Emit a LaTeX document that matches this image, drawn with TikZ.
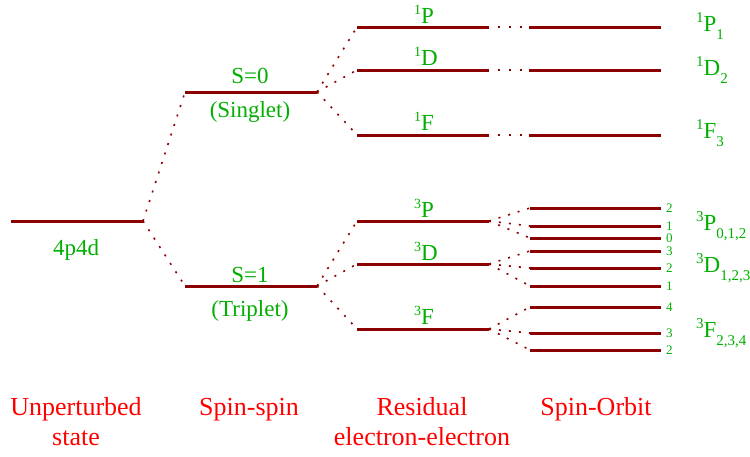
\documentclass[tikz,border=0pt]{standalone}
\usepackage{fontspec}
\setmainfont{Liberation Serif}
\definecolor{lvl}{RGB}{139,0,0}
\definecolor{grn}{RGB}{0,175,0}
\definecolor{rd}{RGB}{255,0,0}
\newcommand{\termlab}[3]{\raisebox{9pt}{\fontsize{15}{15}\selectfont #1}#2\raisebox{-8pt}{\fontsize{15}{15}\selectfont #3}}
\newcommand{\lvllab}[2]{\raisebox{9pt}{\fontsize{14}{14}\selectfont #1}#2}
\begin{document}
\begin{tikzpicture}[x=1pt,y=-1pt,
  level/.style={draw=lvl,line width=3pt},
  fan/.style={draw=lvl,line width=1.6pt,dash pattern=on 2pt off 8pt},
  hdots/.style={draw=lvl,line width=2.2pt,dash pattern=on 2pt off 9pt,shorten <=9pt,shorten >=7pt},
  glab/.style={text=grn,font=\fontsize{23}{26}\selectfont,inner sep=0pt,anchor=base},
  glabw/.style={glab,anchor=base west},
  jlab/.style={text=grn,font=\fontsize{13}{13}\selectfont,inner sep=0pt,anchor=west,xshift=5pt},
  rlab/.style={text=rd,font=\fontsize{26}{30}\selectfont,inner sep=0pt,anchor=base}]
\useasboundingbox (0,0) rectangle (750,456);
% level end points
\coordinate (u-l) at (11,221);  \coordinate (u-r) at (143,221);
\coordinate (s0-l) at (185,92); \coordinate (s0-r) at (317,92);
\coordinate (s1-l) at (185,286);\coordinate (s1-r) at (317,286);
\coordinate (p1-l) at (357,27); \coordinate (p1-r) at (489,27);
\coordinate (d1-l) at (357,70); \coordinate (d1-r) at (489,70);
\coordinate (f1-l) at (357,135);\coordinate (f1-r) at (489,135);
\coordinate (p1j-l) at (529,27); \coordinate (p1j-r) at (661,27);
\coordinate (d1j-l) at (529,70); \coordinate (d1j-r) at (661,70);
\coordinate (f1j-l) at (529,135);\coordinate (f1j-r) at (661,135);
\coordinate (p3-l) at (357,221);\coordinate (p3-r) at (489,221);
\coordinate (d3-l) at (357,264);\coordinate (d3-r) at (489,264);
\coordinate (f3-l) at (357,329);\coordinate (f3-r) at (489,329);
\foreach \n/\y in {p2/208,p1/226,p0/238,d3/251,d2/268,d1/286,f4/307,f3/333,f2/350}{
  \coordinate (j\n-l) at (530,\y); \coordinate (j\n-r) at (661,\y);
}
% levels
\foreach \a in {u,s0,s1,p1,d1,f1,p1j,d1j,f1j,p3,d3,f3,jp2,jp1,jp0,jd3,jd2,jd1,jf4,jf3,jf2}{
  \draw[level] (\a-l) -- (\a-r);
}
% fans
\draw[fan] (u-r) -- (s0-l);
\draw[fan] (u-r) -- (s1-l);
\foreach \b in {p1,d1,f1}{\draw[fan] (s0-r) -- (\b-l);}
\foreach \b in {p3,d3,f3}{\draw[fan] (s1-r) -- (\b-l);}
\foreach \b in {jp2,jp1,jp0}{\draw[fan] (p3-r) -- (\b-l);}
\foreach \b in {jd3,jd2,jd1}{\draw[fan] (d3-r) -- (\b-l);}
\foreach \b in {jf4,jf3,jf2}{\draw[fan] (f3-r) -- (\b-l);}
\draw[hdots] (p1-r) -- (p1j-l);
\draw[hdots] (d1-r) -- (d1j-l);
\draw[hdots] (f1-r) -- (f1j-l);
% green labels
\node[glab] (t4p4d) at (76,255) {4p4d};
\node[glab] (ts0) at (250,83) {S=0};
\node[glab] (tsing) at (250,117) {(Singlet)};
\node[glab] (ts1) at (250,282) {S=1};
\node[glab] (ttrip) at (250,316) {(Triplet)};
\node[glabw] (tp1) at (414,23) {\lvllab{1}{P}};
\node[glabw] (td1) at (414,65) {\lvllab{1}{D}};
\node[glabw] (tf1) at (414,130) {\lvllab{1}{F}};
\node[glabw] (tp3) at (414,217) {\lvllab{3}{P}};
\node[glabw] (td3) at (414,260) {\lvllab{3}{D}};
\node[glabw] (tf3) at (414,324) {\lvllab{3}{F}};
\node[glabw] (rp1) at (696,31) {\termlab{1}{P}{1}};
\node[glabw] (rd1) at (696,75) {\termlab{1}{D}{2}};
\node[glabw] (rf1) at (696,138) {\termlab{1}{F}{3}};
\node[glabw] (rp3) at (696,230) {\termlab{3}{P}{0,1,2}};
\node[glabw] (rd3) at (696,272) {\termlab{3}{D}{1,2,3}};
\node[glabw] (rf3) at (696,337) {\termlab{3}{F}{2,3,4}};
% J numbers
\foreach \n/\t in {p2/2,p1/1,p0/0,d3/3,d2/2,d1/1,f4/4,f3/3,f2/2}{
  \node[jlab] (n\n) at (j\n-r) {\t};
}
% red labels
\node[rlab] (c1a) at (76,415) {Unperturbed};
\node[rlab] (c1b) at (76,445) {state};
\node[rlab] (c2) at (249,415) {Spin-spin};
\node[rlab] (c3a) at (422,415) {Residual};
\node[rlab] (c3b) at (422,445) {electron-electron};
\node[rlab] (c4) at (596,415) {Spin-Orbit};
\end{tikzpicture}
\end{document}
